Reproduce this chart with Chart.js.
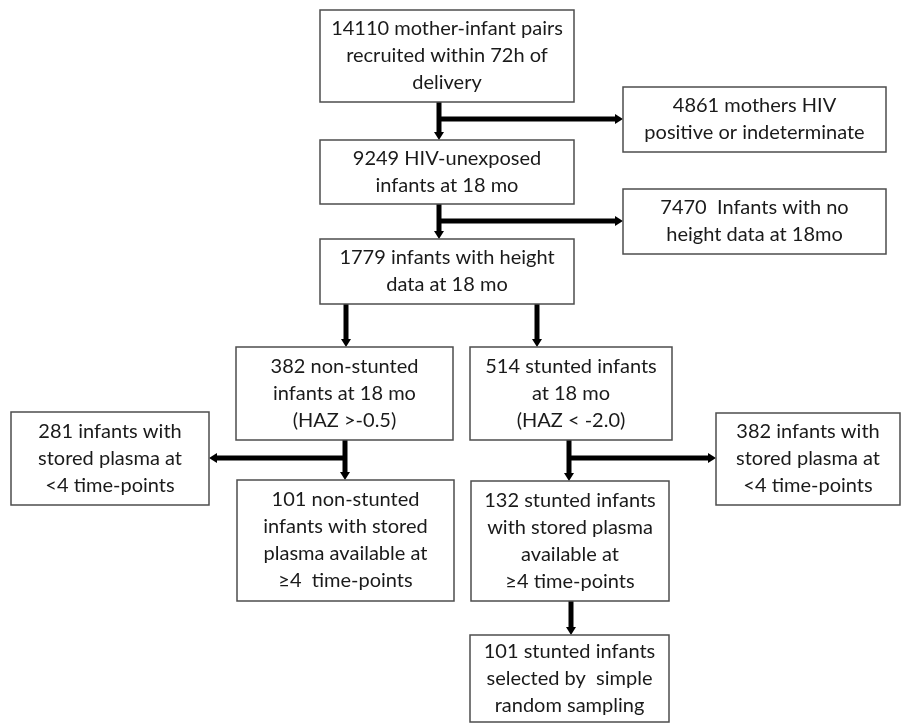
<!DOCTYPE html>
<html>
<head>
<meta charset="utf-8">
<script src="https://cdn.jsdelivr.net/npm/chart.js@4.4.1/dist/chart.umd.min.js"></script>
<style>
  html, body { margin: 0; padding: 0; background: #fff; }
</style>
</head>
<body>
<canvas id="flow" width="902" height="724"></canvas>
<script>
// box texts, one entry per box
const boxLines = [
  ['14110 mother-infant pairs', 'recruited within 72h of', 'delivery'],
  ['4861 mothers HIV', 'positive or indeterminate'],
  ['9249 HIV-unexposed', 'infants at 18 mo'],
  ['7470  Infants with no', 'height data at 18mo'],
  ['1779 infants with height', 'data at 18 mo'],
  ['382 non-stunted', 'infants at 18 mo', '(HAZ >-0.5)'],
  ['514 stunted infants', 'at 18 mo', '(HAZ < -2.0)'],
  ['281 infants with', 'stored plasma at', '<4 time-points'],
  ['382 infants with', 'stored plasma at', '<4 time-points'],
  ['101 non-stunted', 'infants with stored', 'plasma available at', '\u22654  time-points'],
  ['132 stunted infants', 'with stored plasma', 'available at', '\u22654 time-points'],
  ['101 stunted infants', 'selected by  simple', 'random sampling']
];

// layout: [left, top, right, bottom] in chart units
const boxRects = [
  [320, 10, 574, 102],
  [623, 87, 886, 152],
  [320, 140, 574, 204],
  [623, 189, 886, 254],
  [320, 239, 574, 304],
  [236, 347, 453, 440],
  [470, 347, 672, 440],
  [11, 412, 209, 505],
  [716, 413, 900, 505],
  [237, 480, 454, 601],
  [471, 481, 669, 601],
  [470, 635, 669, 722]
];

// connectors: [x1, y1, x2, y2]
const links = [
  [439, 102, 439, 140],
  [439, 119, 623, 119],
  [439, 204, 439, 239],
  [439, 221, 623, 221],
  [346, 304, 346, 347],
  [537, 304, 537, 347],
  [345, 440, 345, 480],
  [345, 458, 209, 458],
  [569, 440, 569, 481],
  [569, 458, 716, 458],
  [571, 601, 571, 635]
];

const FONT = '20px Lato';
const LINE_H = 27;

const flowPlugin = {
  id: 'flow',
  afterDatasetsDraw(chart) {
    const ctx = chart.ctx;
    const xs = chart.scales.x, ys = chart.scales.y;
    ctx.save();

    // connectors with arrowheads
    ctx.strokeStyle = '#000';
    ctx.fillStyle = '#000';
    ctx.lineWidth = 5;
    ctx.lineCap = 'butt';
    links.forEach(l => {
      const x1 = xs.getPixelForValue(l[0]), y1 = ys.getPixelForValue(l[1]);
      const x2 = xs.getPixelForValue(l[2]), y2 = ys.getPixelForValue(l[3]);
      const ang = Math.atan2(y2 - y1, x2 - x1);
      const c = Math.cos(ang), s = Math.sin(ang);
      const head = 8, half = 5;
      ctx.beginPath();
      ctx.moveTo(x1, y1);
      ctx.lineTo(x2 - c * head, y2 - s * head);
      ctx.stroke();
      ctx.beginPath();
      ctx.moveTo(x2, y2);
      ctx.lineTo(x2 - c * head - s * half, y2 - s * head + c * half);
      ctx.lineTo(x2 - c * head + s * half, y2 - s * head - c * half);
      ctx.closePath();
      ctx.fill();
    });

    // boxes, centred on the dataset points
    const meta = chart.getDatasetMeta(0);
    meta.data.forEach((pt, i) => {
      const r = boxRects[i];
      const left = xs.getPixelForValue(r[0]), right = xs.getPixelForValue(r[2]);
      const top = ys.getPixelForValue(r[1]), bottom = ys.getPixelForValue(r[3]);
      ctx.fillStyle = '#fff';
      ctx.fillRect(left, top, right - left, bottom - top);
      ctx.strokeStyle = '#4d4d4d';
      ctx.lineWidth = 1.5;
      ctx.strokeRect(left, top, right - left, bottom - top);

      const lines = boxLines[i];
      ctx.fillStyle = '#1a1a1a';
      ctx.font = FONT;
      ctx.textAlign = 'center';
      ctx.textBaseline = 'middle';
      const y0 = pt.y - (lines.length - 1) * LINE_H / 2;
      lines.forEach((t, k) => ctx.fillText(t, pt.x, y0 + k * LINE_H));
    });
    ctx.restore();
  }
};

new Chart(document.getElementById('flow'), {
  type: 'scatter',
  data: {
    datasets: [{
      label: 'boxes',
      data: boxRects.map(r => ({ x: (r[0] + r[2]) / 2, y: (r[1] + r[3]) / 2 })),
      pointRadius: 0,
      pointHoverRadius: 0
    }]
  },
  options: {
    responsive: false,
    devicePixelRatio: 1,
    animation: false,
    layout: { padding: 0 },
    scales: {
      x: { type: 'linear', min: 0, max: 902, display: false },
      y: { type: 'linear', min: 0, max: 724, reverse: true, display: false }
    },
    plugins: { legend: { display: false }, tooltip: { enabled: false } },
    events: []
  },
  plugins: [flowPlugin]
});
</script>
</body>
</html>
